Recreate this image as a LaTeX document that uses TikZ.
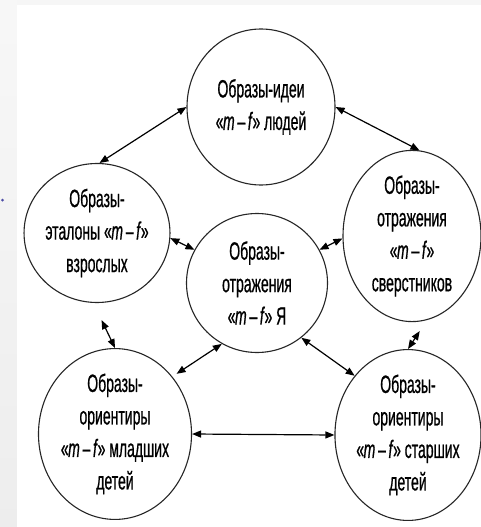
\documentclass[tikz,border=0pt]{standalone}
\usepackage{fontspec}
\setmainfont{Liberation Sans}[FakeStretch=0.56,FakeBold=0.6]
\usetikzlibrary{shapes.geometric,arrows.meta}
\begin{document}
\begin{tikzpicture}[x=1pt,y=-1pt,
  bubble/.style={draw=black!85, line width=1.1pt, ellipse, inner sep=0pt, align=center,
    font=\fontsize{25}{32.5}\selectfont},
  link/.style={{Triangle[length=9pt,width=7pt]}-{Triangle[length=9pt,width=7pt]}, line width=1.2pt, black}]
\useasboundingbox (0,0) rectangle (481,527);
\shade[top color=gray!6, bottom color=gray!14] (0,0) rectangle (17,527);
\fill[gray!7] (17,0) rectangle (481,5);
\fill[white] (17,5) rectangle (481,527);
\fill[blue!50!black!70] (2.5,200) circle (1.5);
\newcommand{\mf}{«\kern-0.5pt\textit{m}\kern2.8pt–\kern2.6pt\textit{f}\kern-0.5pt»}
\node[bubble, minimum width=148pt, minimum height=156pt] (top) at (261,107) {Образы-идеи\\\mf{} людей};
\node[bubble, minimum width=143pt, minimum height=139pt] (lft) at (97,233) {Образы-\\эталоны \mf\\взрослых};
\node[bubble, minimum width=141pt, minimum height=139pt] (ctr) at (257,283) {Образы-\\отражения\\\mf{} Я};
\node[bubble, minimum width=138pt, minimum height=148pt] (rgt) at (412,236) {Образы-\\отражения\\\mf\\сверстников};
\node[bubble, minimum width=144pt, minimum height=157pt] (bl) at (115,434) {Образы-\\ориентиры\\\mf{} младших\\детей};
\node[bubble, minimum width=146pt, minimum height=156pt] (br) at (408,435) {Образы-\\ориентиры\\\mf{} старших\\детей};
\draw[link] (top.west) -- (lft.88);
\draw[link] (top.east) -- (rgt.85);
\draw[link] (lft.-4) -- (ctr.152);
\draw[link] (ctr.28) -- (rgt.182);
\draw[link, shorten <=19pt] (lft.-93) -- (bl.north);
\draw[link, shorten <=13pt] (rgt.-80) -- (br.north);
\draw[link, shorten >=5pt] (ctr.240) -- (bl.45);
\draw[link] (ctr.309) -- (br.132);
\draw[link] (bl.east) -- (br.west);
\end{tikzpicture}
\end{document}
